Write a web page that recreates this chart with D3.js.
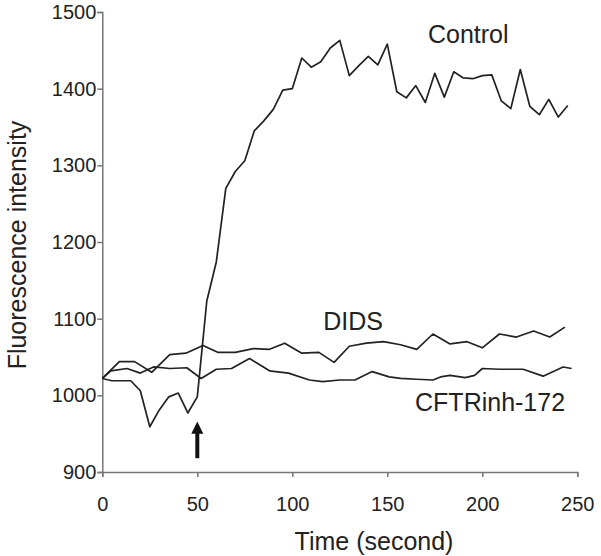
<!DOCTYPE html>
<html>
<head>
<meta charset="utf-8">
<script src="https://cdn.jsdelivr.net/npm/d3@7"></script>
<style>
  body { margin: 0; background: #fff; }
  text { font-family: "Liberation Sans", Arial, sans-serif; fill: #222; }
  .axis path, .axis line { stroke: #777; stroke-width: 1.5; }
  .axis text { font-size: 20px; fill: #222; }
  .line { fill: none; stroke: #222; stroke-width: 1.7; stroke-linejoin: round; }
</style>
</head>
<body>
<svg width="601" height="556"></svg>
<script>
// sample times (s) and fluorescence readings
var controlTime = [0, 5, 10, 15, 20, 25, 30, 35, 40, 45, 50, 55, 60, 65, 70, 75, 80, 85, 90, 95,
                   100, 105, 110, 115, 120, 125, 130, 135, 140, 145, 150, 155, 160, 165, 170, 175, 180, 185, 190, 195,
                   200, 205, 210, 215, 220, 225, 230, 235, 240, 245];
var controlVal = [1022, 1019, 1019, 1019, 1006, 959, 981, 998, 1003, 977, 998, 1123, 1174, 1270, 1292, 1306, 1345, 1358, 1373, 1398,
                  1400, 1440, 1428, 1435, 1453, 1463, 1417, 1430, 1442, 1431, 1458, 1396, 1388, 1404, 1382, 1420, 1389, 1422, 1414, 1413,
                  1417, 1418, 1384, 1374, 1425, 1377, 1366, 1386, 1363, 1378];

var didsTime = [0, 9, 17, 26, 35.5, 44, 53, 61, 70, 79.5, 88, 96, 105, 114, 122, 130, 139, 148, 157, 165.5,
                174, 183, 192, 200, 209, 218, 227, 235.5, 243.5];
var didsVal = [1022, 1044, 1044, 1030, 1053, 1055, 1065, 1056, 1056, 1061, 1060, 1068, 1055, 1056, 1043, 1064, 1068, 1070, 1066, 1060,
               1080, 1067, 1070, 1062, 1080, 1076, 1084, 1076, 1089];

var cftrTime = [0, 4.5, 13, 20, 27, 35.5, 44.5, 52, 60, 68, 77.5, 88, 98, 109, 116, 125, 133, 142, 151, 157,
                165.5, 174, 178, 183, 191, 196, 200, 209, 221.5, 232, 242.5, 247];
var cftrVal = [1022, 1032, 1035, 1029, 1037, 1035, 1036, 1022, 1034, 1035, 1048, 1032, 1029, 1020, 1018, 1020, 1020, 1031, 1024, 1022,
               1021, 1020, 1024, 1026, 1023, 1026, 1035, 1034, 1034, 1025, 1037, 1035];

var xTicks = [0, 50, 100, 150, 200, 250];
var yTicks = [900, 1000, 1100, 1200, 1300, 1400, 1500];

var svg = d3.select("svg");

var x = d3.scaleLinear().domain([0, 250]).range([102.3, 577.3]);
var y = d3.scaleLinear().domain([900, 1500]).range([472, 12]);

var line = d3.line()
    .x(function(d) { return x(d[0]); })
    .y(function(d) { return y(d[1]); });

svg.append("g")
    .attr("class", "axis")
    .attr("transform", "translate(0," + y(900) + ")")
    .call(d3.axisBottom(x).tickValues(xTicks).tickFormat(d3.format("d")).tickSize(5).tickPadding(20));

svg.append("g")
    .attr("class", "axis")
    .attr("transform", "translate(" + x(0) + ",0)")
    .call(d3.axisLeft(y).tickValues(yTicks).tickFormat(d3.format("d")).tickSize(5).tickPadding(1));

[[controlTime, controlVal], [didsTime, didsVal], [cftrTime, cftrVal]].forEach(function(s) {
  svg.append("path")
      .datum(d3.zip(s[0], s[1]))
      .attr("class", "line")
      .attr("d", line);
});

// series labels
svg.append("text").attr("x", x(171.4)).attr("y", y(1460)).style("font-size", "25px").text("Control");
svg.append("text").attr("x", x(116.3)).attr("y", y(1085)).style("font-size", "25px").text("DIDS");
svg.append("text").attr("x", x(164.6)).attr("y", y(979)).style("font-size", "25px").text("CFTRinh-172");

// arrow marking addition at 50 s
svg.append("line")
    .attr("x1", x(50)).attr("x2", x(50))
    .attr("y1", y(918)).attr("y2", y(952))
    .attr("stroke", "#111").attr("stroke-width", 4);
svg.append("path")
    .attr("d", "M" + (x(50) - 6) + "," + y(950) + "L" + (x(50) + 6) + "," + y(950) + "L" + x(50) + "," + y(966) + "Z")
    .attr("fill", "#111");

// axis titles
svg.append("text")
    .attr("x", x(143)).attr("y", 550)
    .attr("text-anchor", "middle")
    .style("font-size", "25px")
    .text("Time (second)");

svg.append("text")
    .attr("transform", "translate(26,245) rotate(-90)")
    .attr("text-anchor", "middle")
    .style("font-size", "25px")
    .text("Fluorescence intensity");
</script>
</body>
</html>
